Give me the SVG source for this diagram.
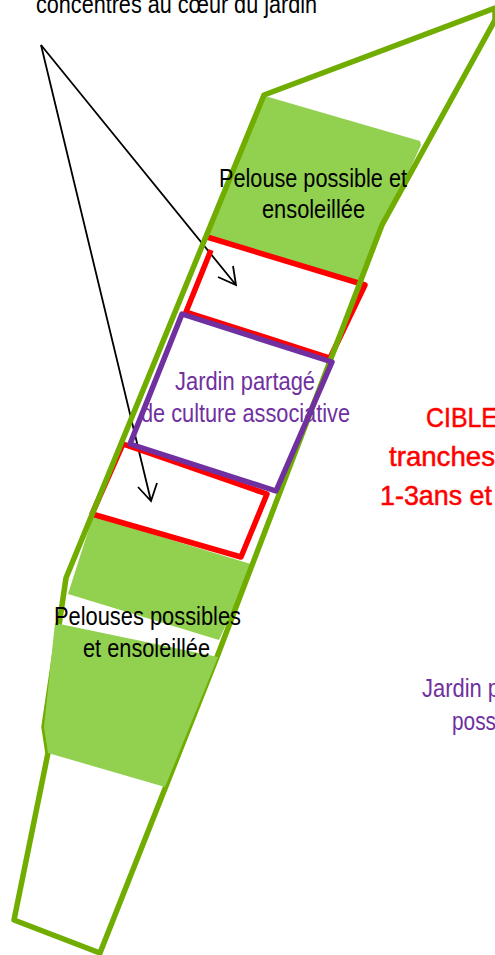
<svg xmlns="http://www.w3.org/2000/svg" width="495" height="955" viewBox="0 0 495 955">
<style>
.lawn{fill:#92d050}
.out{fill:none;stroke:#70ad00;stroke-width:5.5;stroke-linejoin:round}
.red{fill:none;stroke:#ff0000;stroke-width:5.5;stroke-linejoin:round}
.pur{fill:none;stroke:#7030a0;stroke-width:5.5;stroke-linejoin:round}
.arr{fill:none;stroke:#000;stroke-width:1.8}
text{font-family:"Liberation Sans",Arial,sans-serif;font-size:25px}
.k{fill:#000}
.v{fill:#7030a0}
.r{fill:#ff0000;stroke:#ff0000;stroke-width:0.5;font-size:28px}
</style>
<g id="connectors">
<path class="arr" d="M41,45 L236,285 M218,277 L236,285 L233,266"/>
<path class="arr" d="M41,45 L151,501 M138,487 L151,501 L157,483"/>
</g>
<g id="lawn-nord">
<polygon class="lawn" points="265,96 420,141 421,145 358,283 206,236"/>
</g>
<g id="lawn-centre">
<polygon class="lawn" points="93,516 254,565 219,640 68,594"/>
</g>
<g id="zones-cibles">
<polyline class="red" points="207,237 365,285 330,358"/>
<polyline class="red" points="211,250 186,312 330,358"/>
<polyline class="red" points="123,444 267,494 241,557 92,514 123,444"/>
</g>
<g id="parcelle">
<polygon class="out" points="495,8 264,95 66,578 44,727 48,753 14,920 100,953 217,657 382,225 495,20"/>
</g>
<g id="lawn-sud">
<polygon class="lawn" points="55,623 218,657 165,787 48,753 44,727"/>
</g>
<g id="jardin-partage">
<polygon class="pur" points="182,314 332,362 276,491 130,444"/>
</g>
<g id="labels">
<text class="k" x="36" y="13" textLength="281" lengthAdjust="spacingAndGlyphs">concentrés au cœur du jardin</text>
<text class="k" x="219" y="187" textLength="188" lengthAdjust="spacingAndGlyphs">Pelouse possible et</text>
<text class="k" x="262" y="218" textLength="103" lengthAdjust="spacingAndGlyphs">ensoleillée</text>
<text class="v" x="175" y="390" textLength="140" lengthAdjust="spacingAndGlyphs">Jardin partagé</text>
<text class="v" x="141" y="422" textLength="209" lengthAdjust="spacingAndGlyphs">de culture associative</text>
<text class="k" x="54" y="625" textLength="187" lengthAdjust="spacingAndGlyphs">Pelouses possibles</text>
<text class="k" x="83" y="657" textLength="127" lengthAdjust="spacingAndGlyphs">et ensoleillée</text>
<text class="r" x="426" y="427" textLength="72" lengthAdjust="spacingAndGlyphs">CIBLE</text>
<text class="r" x="389" y="466" textLength="106" lengthAdjust="spacingAndGlyphs">tranches</text>
<text class="r" x="380" y="505" textLength="112" lengthAdjust="spacingAndGlyphs">1-3ans et</text>
<text class="v" x="422" y="697" textLength="78" lengthAdjust="spacingAndGlyphs">Jardin p</text>
<text class="v" x="452" y="730" textLength="44" lengthAdjust="spacingAndGlyphs">poss</text>
</g>
</svg>
